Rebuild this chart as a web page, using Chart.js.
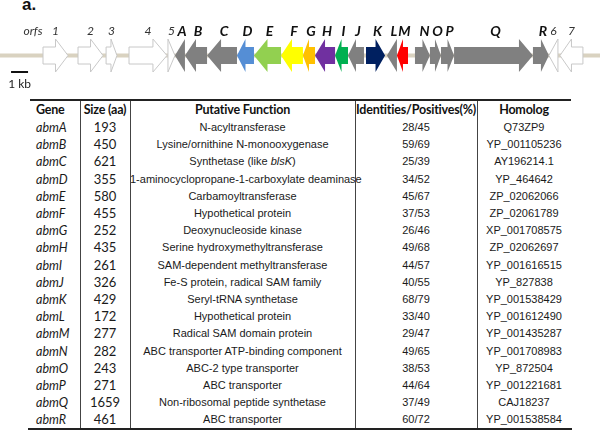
<!DOCTYPE html>
<html>
<head>
<meta charset="utf-8">
<script src="https://cdn.jsdelivr.net/npm/chart.js"></script>
<style>
  body { margin: 0; background: #fff; width: 600px; height: 431px; overflow: hidden; position: relative; }
  #map { position: absolute; left: 0; top: 0; }
  .panel { position: absolute; left: 22px; top: -5px; font: bold 17px "Liberation Sans", Arial, sans-serif; color: #111; }
  .cell { position: absolute; white-space: nowrap; color: #1a1a1a; }
  .hd { font: bold 12.5px Lato, Carlito, Calibri, sans-serif; letter-spacing: -0.2px; color: #111; }
  .gn { font: italic 12.5px Lato, Carlito, Calibri, sans-serif; }
  .sz { font: 13px Lato, Carlito, Calibri, sans-serif; }
  .tx { font: 11px "Liberation Sans", Arial, sans-serif; }
  .rule { position: absolute; background: #222; }
</style>
</head>
<body>
<div class="panel">a.</div>
<canvas id="map" width="600" height="92"></canvas>
<div id="table"></div>
<script>
// gene map (kb, 1 kb = scale bar)
const geneNames = ['1', '2', '3', '4', '5', 'A', 'B', 'C', 'D', 'E', 'F', 'G', 'H', 'I', 'J', 'K', 'L', 'M', 'N', 'O', 'P', 'Q', 'R', '6', '7'];
const geneStart = [2.53, 4.59, 6.24, 7.59, 9.88, 10.29, 10.88, 12.18, 13.94, 14.94, 16.53, 17.82, 18.53, 19.71, 20.47, 21.53, 22.76, 23.35, 24.41, 25.29, 25.94, 26.71, 31.35, 32.29, 32.94];
const geneEnd = [4.00, 6.06, 6.88, 9.82, 10.29, 10.88, 12.18, 13.94, 14.94, 16.53, 17.82, 18.53, 19.71, 20.47, 21.41, 22.65, 23.35, 24.00, 25.29, 25.94, 26.71, 31.35, 32.29, 32.82, 34.29];
const geneStrand = [1, 1, 1, 1, 1, -1, -1, -1, -1, -1, -1, -1, -1, -1, -1, 1, -1, -1, 1, 1, 1, 1, 1, -1, -1];
const geneColors = ['#ffffff', '#ffffff', '#ffffff', '#ffffff', '#ffffff',
  '#808080', '#808080', '#808080', '#558ed5', '#92d050', '#ffff00', '#ffc000', '#7030a0', '#00b050', '#808080',
  '#002060', '#808080', '#ff0000', '#808080', '#808080', '#808080', '#808080', '#808080', '#ffffff', '#ffffff'];

// table
const genes = ['abmA', 'abmB', 'abmC', 'abmD', 'abmE', 'abmF', 'abmG', 'abmH', 'abmI', 'abmJ', 'abmK', 'abmL', 'abmM', 'abmN', 'abmO', 'abmP', 'abmQ', 'abmR'];
const sizes = [193, 450, 621, 355, 580, 455, 252, 435, 261, 326, 429, 172, 277, 282, 243, 271, 1659, 461];
const functions = ['N-acyltransferase', 'Lysine/ornithine N-monooxygenase', 'Synthetase (like <i>blsK</i>)',
  '1-aminocyclopropane-1-carboxylate deaminase', 'Carbamoyltransferase', 'Hypothetical protein',
  'Deoxynucleoside kinase', 'Serine hydroxymethyltransferase', 'SAM-dependent methyltransferase',
  'Fe-S protein, radical SAM family', 'Seryl-tRNA synthetase', 'Hypothetical protein',
  'Radical SAM domain protein', 'ABC transporter ATP-binding component', 'ABC-2 type transporter',
  'ABC transporter', 'Non-ribosomal peptide synthetase', 'ABC transporter'];
const identities = ['28/45', '59/69', '25/39', '34/52', '45/67', '37/53', '26/46', '49/68', '44/57', '40/55', '68/79', '33/40', '29/47', '49/65', '38/53', '44/64', '37/49', '60/72'];
const homologs = ['Q73ZP9', 'YP_001105236', 'AY196214.1', 'YP_464642', 'ZP_02062066', 'ZP_02061789', 'XP_001708575', 'ZP_02062697', 'YP_001616515', 'YP_827838', 'YP_001538429', 'YP_001612490', 'YP_001435287', 'YP_001708983', 'YP_872504', 'YP_001221681', 'CAJ18237', 'YP_001538584'];
const headers = ['Gene', 'Size (aa)', 'Putative Function', 'Identities/Positives(%)', 'Homolog'];

const arrowPlugin = {
  id: 'arrows',
  beforeDatasetsDraw(chart) {
    const ctx = chart.ctx;
    const x = chart.scales.x;
    const y = chart.getDatasetMeta(0).data[0].y;
    ctx.save();
    // backbone
    ctx.strokeStyle = '#d9d2c0';
    ctx.lineWidth = 4;
    ctx.beginPath();
    ctx.moveTo(x.getPixelForValue(x.min), y);
    ctx.lineTo(x.getPixelForValue(x.max), y);
    ctx.stroke();
    // scale bar 1 kb
    ctx.strokeStyle = '#111';
    ctx.lineWidth = 2;
    ctx.beginPath();
    ctx.moveTo(x.getPixelForValue(0.65), 72);
    ctx.lineTo(x.getPixelForValue(1.65), 72);
    ctx.stroke();
    ctx.fillStyle = '#222';
    ctx.font = '12px Lato, Carlito, Calibri, sans-serif';
    ctx.textAlign = 'center';
    ctx.textBaseline = 'middle';
    ctx.fillText('1 kb', x.getPixelForValue(1.15), 84);
    ctx.restore();
  },
  afterDatasetsDraw(chart) {
    const ctx = chart.ctx;
    const meta = chart.getDatasetMeta(0);
    ctx.save();
    meta.data.forEach((bar, i) => {
      const l = Math.min(bar.x, bar.base);
      const r = Math.max(bar.x, bar.base);
      const len = r - l;
      const head = len <= 10.5 ? len : Math.min(14, Math.max(6, len * 0.5));
      const bh = 8.5, hh = 16.5, yc = bar.y;
      ctx.beginPath();
      if (geneStrand[i] > 0) {
        ctx.moveTo(l, yc - bh);
        ctx.lineTo(r - head, yc - bh);
        ctx.lineTo(r - head, yc - hh);
        ctx.lineTo(r, yc);
        ctx.lineTo(r - head, yc + hh);
        ctx.lineTo(r - head, yc + bh);
        ctx.lineTo(l, yc + bh);
      } else {
        ctx.moveTo(r, yc - bh);
        ctx.lineTo(l + head, yc - bh);
        ctx.lineTo(l + head, yc - hh);
        ctx.lineTo(l, yc);
        ctx.lineTo(l + head, yc + hh);
        ctx.lineTo(l + head, yc + bh);
        ctx.lineTo(r, yc + bh);
      }
      ctx.closePath();
      ctx.fillStyle = geneColors[i];
      ctx.fill();
      if (geneColors[i] === '#ffffff') {
        ctx.strokeStyle = '#c8c8c8';
        ctx.lineWidth = 1;
        ctx.stroke();
      }
      // label
      const isOrf = /^[0-9]$/.test(geneNames[i]);
      ctx.fillStyle = isOrf ? '#333' : '#111';
      ctx.font = isOrf ? 'italic 12px Lato, Carlito, Calibri, sans-serif' : 'bold italic 14px Lato, Carlito, Calibri, sans-serif';
      ctx.textAlign = 'center';
      ctx.textBaseline = 'middle';
      ctx.fillText(geneNames[i], (l + r) / 2 + (isOrf ? 0 : 2), 31);
    });
    ctx.font = 'italic 12px Lato, Carlito, Calibri, sans-serif';
    ctx.fillStyle = '#333';
    ctx.fillText('orfs', 33, 31);
    ctx.restore();
  }
};

new Chart(document.getElementById('map').getContext('2d'), {
  type: 'bar',
  data: {
    labels: ['cluster'],
    datasets: [{
      data: geneNames.map((n, i) => ({ x: [geneStart[i], geneEnd[i]], y: 'cluster' })),
      backgroundColor: 'rgba(0,0,0,0)',
      borderWidth: 0,
      barThickness: 17
    }]
  },
  options: {
    indexAxis: 'y',
    responsive: false,
    animation: false,
    layout: { padding: { top: 19, bottom: 0, left: 0, right: 0 } },
    scales: {
      x: { type: 'linear', min: 0, max: 600 / 17, display: false },
      y: { type: 'category', display: false }
    },
    plugins: { legend: { display: false }, tooltip: { enabled: false } }
  },
  plugins: [arrowPlugin]
});

// table built from the arrays
const colX = [30, 80, 130, 355, 477, 571];
const table = document.getElementById('table');
function addCell(cls, html, c, top, h, align) {
  const d = document.createElement('div');
  d.className = 'cell ' + cls;
  d.innerHTML = html;
  d.style.left = (colX[c] + (align === 'left' ? 6 : 0)) + 'px';
  d.style.width = (colX[c + 1] - colX[c]) + 'px';
  d.style.top = top + 'px';
  d.style.height = h + 'px';
  d.style.lineHeight = h + 'px';
  d.style.textAlign = align;
  table.appendChild(d);
}
function addRule(left, top, w, h, color) {
  const d = document.createElement('div');
  d.className = 'rule';
  d.style.left = left + 'px'; d.style.top = top + 'px';
  d.style.width = w + 'px'; d.style.height = h + 'px';
  if (color) d.style.background = color;
  table.appendChild(d);
}
headers.forEach((h, c) => addCell('hd', h, c, 101, 18, c === 0 ? 'left' : 'center'));
const rowH = 17.2;
genes.forEach((g, i) => {
  const top = 119 + i * rowH;
  addCell('gn', g, 0, top, rowH, 'left');
  addCell('sz', sizes[i], 1, top, rowH, 'center');
  addCell('tx', functions[i], 2, top, rowH, 'center');
  addCell('tx', identities[i], 3, top, rowH, 'center');
  addCell('tx', homologs[i], 4, top, rowH, 'center');
});
addRule(30, 99, 541, 2);
addRule(28, 428, 544, 2);
[1, 2, 3, 4].forEach(c => addRule(colX[c], 101, 1, 327, '#444'));
</script>
</body>
</html>
